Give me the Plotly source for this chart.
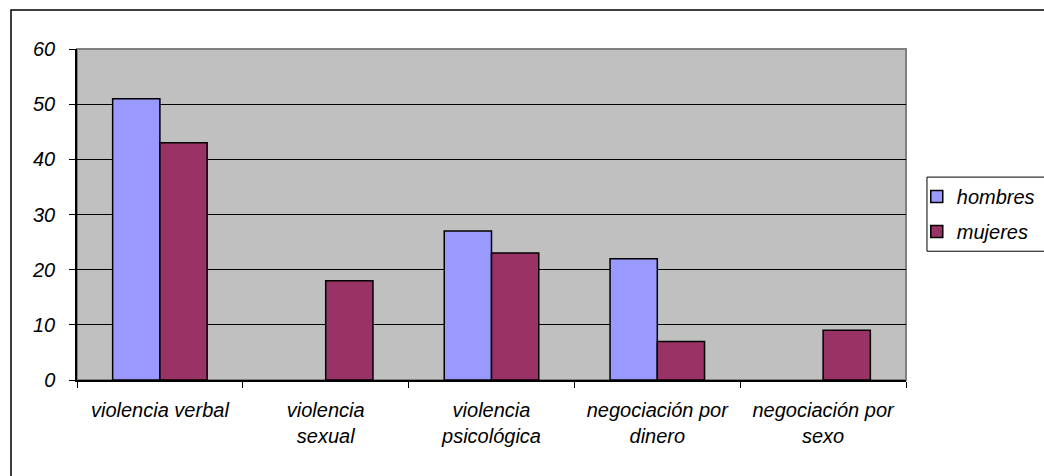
import plotly.graph_objects as go

# categories and values
categorias = ["violencia verbal", "violencia sexual", "violencia psicológica",
              "negociación por dinero", "negociación por sexo"]
etiquetas = ["violencia verbal", "violencia<br>sexual", "violencia<br>psicológica",
             "negociación por<br>dinero", "negociación por<br>sexo"]
hombres = [51, None, 27, 22, None]
mujeres = [43, 18, 23, 7, 9]
y_ticks = [0, 10, 20, 30, 40, 50, 60]

_FAMILY = "Liberation Sans, Arial, sans-serif"

fig = go.Figure()
fig.add_trace(go.Bar(x=categorias, y=hombres, name="<i>hombres</i>", legendgroup="h",
                     marker=dict(color="#9999FF", line=dict(color="black", width=1.5))))
fig.add_trace(go.Bar(x=categorias, y=mujeres, name="<i>mujeres</i>", legendgroup="m",
                     marker=dict(color="#993366", line=dict(color="black", width=1.5))))

# gray frame round the plot area, outer chart border, legend box
fig.add_shape(type="rect", xref="paper", yref="paper", x0=0, x1=1, y0=0, y1=1,
              line=dict(color="#808080", width=2), layer="below")
fig.add_shape(type="rect", xref="paper", yref="paper", x0=-0.0796, x1=1.2, y0=-0.4, y1=1.118,
              line=dict(color="black", width=1.5))
fig.add_shape(type="rect", xref="paper", yref="paper", x0=1.0253, x1=1.2, y0=0.389, y1=0.613,
              line=dict(color="black", width=1))

fig.update_layout(
    width=1044, height=476,
    margin=dict(l=77, r=138, t=49, b=96, autoexpand=False),
    paper_bgcolor="white",
    plot_bgcolor="#C0C0C0",
    barmode="group",
    bargap=0.43,
    bargroupgap=0,
    font=dict(family=_FAMILY, size=20, color="black"),
    showlegend=True,
    legend=dict(x=1.013, y=0.613, xanchor="left", yanchor="top",
                borderwidth=0, bgcolor="rgba(0,0,0,0)",
                traceorder="grouped", tracegroupgap=6,
                font=dict(family=_FAMILY, size=20)),
    xaxis=dict(
        tickmode="array", tickvals=categorias,
        ticktext=[f"<i>{t}</i>" for t in etiquetas],
        ticks="outside", tickson="boundaries", ticklen=6, tickcolor="black",
        showline=True, linecolor="black", linewidth=1.5,
        tickfont=dict(size=20), showgrid=False, ticklabelstandoff=11,
    ),
    yaxis=dict(
        range=[0, 60], tickmode="array", tickvals=y_ticks,
        ticktext=[f"<i>{v}</i>" for v in y_ticks],
        ticks="outside", ticklen=6, tickcolor="black",
        showline=True, linecolor="black", linewidth=1.5,
        showgrid=True, gridcolor="black", gridwidth=1,
        zeroline=False, tickfont=dict(size=20), ticklabelstandoff=10,
    ),
)

fig.write_html("out.html", post_script="document.body.style.margin='0';",
               config={"displayModeBar": False})
